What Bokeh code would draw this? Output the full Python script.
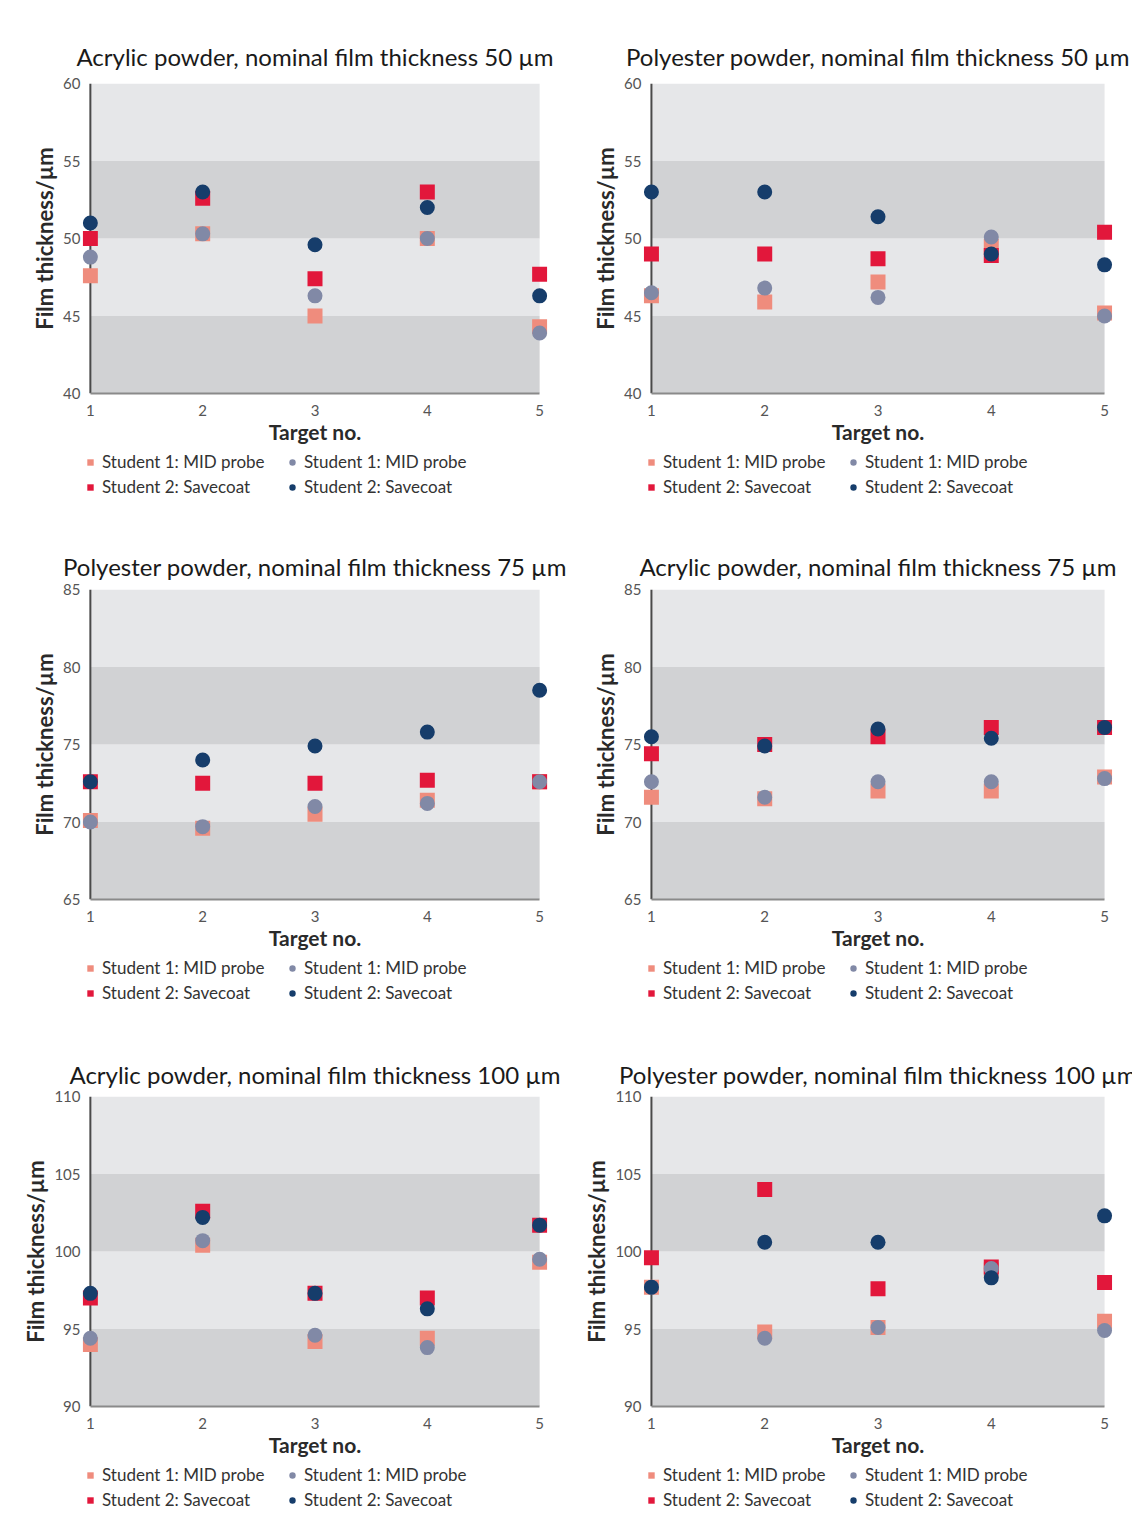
from bokeh.plotting import figure
from bokeh.models import (BoxAnnotation, FixedTicker, Legend, LegendItem,
                          ColumnDataSource, Range1d, Span)
from bokeh.layouts import column, row
from bokeh.embed import file_html
from bokeh.resources import INLINE

targets = [1, 2, 3, 4, 5]
x_ticks = [1, 2, 3, 4, 5]

# Acrylic 50
acr50_sq_s1 = [47.6, 50.3, 45.0, 50.0, 44.3]
acr50_sq_s2 = [50.0, 52.6, 47.4, 53.0, 47.7]
acr50_ci_s1 = [48.8, 50.3, 46.3, 50.0, 43.9]
acr50_ci_s2 = [51.0, 53.0, 49.6, 52.0, 46.3]
# Polyester 50
pol50_sq_s1 = [46.3, 45.9, 47.2, 49.5, 45.2]
pol50_sq_s2 = [49.0, 49.0, 48.7, 48.9, 50.4]
pol50_ci_s1 = [46.5, 46.8, 46.2, 50.1, 45.0]
pol50_ci_s2 = [53.0, 53.0, 51.4, 49.0, 48.3]
# Polyester 75
pol75_sq_s1 = [70.1, 69.6, 70.5, 71.4, 72.6]
pol75_sq_s2 = [72.6, 72.5, 72.5, 72.7, 72.6]
pol75_ci_s1 = [70.0, 69.7, 71.0, 71.2, 72.6]
pol75_ci_s2 = [72.6, 74.0, 74.9, 75.8, 78.5]
# Acrylic 75
acr75_sq_s1 = [71.6, 71.5, 72.0, 72.0, 72.9]
acr75_sq_s2 = [74.4, 75.0, 75.5, 76.1, 76.1]
acr75_ci_s1 = [72.6, 71.6, 72.6, 72.6, 72.8]
acr75_ci_s2 = [75.5, 74.9, 76.0, 75.4, 76.1]
# Acrylic 100
acr100_sq_s1 = [94.0, 100.4, 94.2, 94.4, 99.3]
acr100_sq_s2 = [97.0, 102.6, 97.3, 97.0, 101.7]
acr100_ci_s1 = [94.4, 100.7, 94.6, 93.8, 99.5]
acr100_ci_s2 = [97.3, 102.2, 97.3, 96.3, 101.7]
# Polyester 100
pol100_sq_s1 = [97.7, 94.8, 95.1, 98.8, 95.5]
pol100_sq_s2 = [99.6, 104.0, 97.6, 99.0, 98.0]
pol100_ci_s1 = [97.7, 94.4, 95.1, 98.9, 94.9]
pol100_ci_s2 = [97.7, 100.6, 100.6, 98.3, 102.3]

titles = [
    "Acrylic powder, nominal film thickness 50 µm",
    "Polyester powder, nominal film thickness 50 µm",
    "Polyester powder, nominal film thickness 75 µm",
    "Acrylic powder, nominal film thickness 75 µm",
    "Acrylic powder, nominal film thickness 100 µm",
    "Polyester powder, nominal film thickness 100 µm",
]
nominals = [50, 50, 75, 75, 100, 100]
series = [
    (acr50_sq_s1, acr50_sq_s2, acr50_ci_s1, acr50_ci_s2),
    (pol50_sq_s1, pol50_sq_s2, pol50_ci_s1, pol50_ci_s2),
    (pol75_sq_s1, pol75_sq_s2, pol75_ci_s1, pol75_ci_s2),
    (acr75_sq_s1, acr75_sq_s2, acr75_ci_s1, acr75_ci_s2),
    (acr100_sq_s1, acr100_sq_s2, acr100_ci_s1, acr100_ci_s2),
    (pol100_sq_s1, pol100_sq_s2, pol100_ci_s1, pol100_ci_s2),
]
labels = ["Student 1: MID probe", "Student 2: Savecoat",
          "Student 1: MID probe", "Student 2: Savecoat"]

SALMON = "#ef8c7d"
RED = "#e2173b"
GREY = "#8189a6"
NAVY = "#163d6b"
COLORS = [SALMON, RED, GREY, NAVY]
MARKERS = ["square", "square", "circle", "circle"]
DARK_BAND = "#d1d2d4"
LIGHT_BAND = "#e6e7e9"
FONT = "Lato"


def make_source(i):
    return ColumnDataSource(dict(x=targets, a=series[i][0], b=series[i][1],
                                 c=series[i][2], d=series[i][3]))


def make_panel(i, src, width, height, top, left, title_standoff):
    nom = nominals[i]
    p = figure(width=width, height=height, output_backend="svg",
               toolbar_location=None,
               x_range=Range1d(0.93, 5.07),
               y_range=Range1d(nom - 10, nom + 10),
               min_border_left=left, min_border_right=20,
               min_border_top=top, min_border_bottom=height - top - 310)
    p.outline_line_color = None
    p.background_fill_color = "white"
    p.border_fill_color = "white"
    p.grid.visible = False

    edges = [nom - 10, nom - 5, nom, nom + 5, nom + 10]
    for k in range(4):
        p.add_layout(BoxAnnotation(left=1, right=5, bottom=edges[k], top=edges[k + 1],
                                   fill_color=DARK_BAND if k % 2 == 0 else LIGHT_BAND,
                                   fill_alpha=1, line_color=None, level="underlay"))
    p.add_layout(Span(location=1, dimension="height", line_color="#4a4a4a",
                      line_width=2, level="underlay"))

    for col, mk, c in zip("abcd", MARKERS, COLORS):
        p.scatter("x", col, source=src, marker=mk, size=15,
                  fill_color=c, line_color=None)

    p.title.text = titles[i]
    p.title.text_font = FONT
    p.title.text_font_size = "24px"
    p.title.text_font_style = "normal"
    p.title.text_color = "#1a1a1a"
    p.title.align = "center"
    p.title.standoff = title_standoff

    xa = p.xaxis[0]
    xa.ticker = FixedTicker(ticks=x_ticks)
    xa.bounds = (1, 5)
    xa.axis_label = "Target no."
    ya = p.yaxis[0]
    ya.ticker = FixedTicker(ticks=edges)
    ya.axis_label = "Film thickness/µm"
    for ax in (xa, ya):
        ax.major_tick_line_color = None
        ax.minor_tick_line_color = None
        ax.axis_line_width = 2
        ax.major_label_text_font = FONT
        ax.major_label_text_font_size = "15px"
        ax.major_label_text_color = "#555555"
        ax.axis_label_text_font = FONT
        ax.axis_label_text_font_style = "bold"
        ax.axis_label_text_color = "#2a2a2a"
    xa.axis_line_color = "#8a8a8a"
    ya.axis_line_color = None
    xa.major_label_standoff = 5
    xa.axis_label_standoff = 0
    xa.axis_label_text_font_size = "21px"
    ya.major_label_standoff = -4
    ya.axis_label_standoff = 2
    ya.axis_label_text_font_size = "22px"
    return p


def make_legend(src, width, height, left):
    # legend strip below each panel; its proxy renderers use the panel data
    # but lie outside this strip's visible range, so only the legend shows
    q = figure(width=width, height=height, output_backend="svg",
               toolbar_location=None, x_range=Range1d(100, 101), y_range=Range1d(100, 101),
               x_axis_location=None, y_axis_location=None,
               min_border_left=left, min_border_right=0,
               min_border_top=0, min_border_bottom=0)
    q.outline_line_color = None
    q.grid.visible = False
    q.background_fill_color = "white"
    q.border_fill_color = "white"
    rs = [q.scatter("x", col, source=src, marker=mk, size=15,
                    fill_color=c, line_color=None)
          for col, mk, c in zip("abcd", MARKERS, COLORS)]
    items = [LegendItem(label=lab, renderers=[r]) for lab, r in zip(labels, rs)]
    leg = Legend(items=items, orientation="vertical", ncols=2,
                 location="top_left", border_line_color=None,
                 background_fill_alpha=0, margin=0, padding=2,
                 spacing=4, glyph_width=16, glyph_height=18,
                 label_standoff=4, label_width=178,
                 label_text_font=FONT, label_text_font_size="17px",
                 label_text_color="#333333")
    q.add_layout(leg)
    return q


def cell(i, width, height, top, left, leg_h, leg_left, title_standoff):
    src = make_source(i)
    return column(make_panel(i, src, width, height, top, left, title_standoff),
                  make_legend(src, width, leg_h, leg_left), spacing=0)


layout = column(
    row(cell(0, 567, 451, 83, 78, 63, 82, 26),
        cell(1, 565, 451, 83, 73, 63, 76, 26), spacing=0),
    row(cell(2, 567, 443, 75, 78, 63, 82, 18),
        cell(3, 565, 443, 75, 73, 63, 76, 18), spacing=0),
    row(cell(4, 567, 444, 76, 78, 50, 82, 15),
        cell(5, 565, 444, 76, 73, 50, 76, 15), spacing=0),
    spacing=0)

open("out.html", "w").write(file_html(layout, INLINE))
